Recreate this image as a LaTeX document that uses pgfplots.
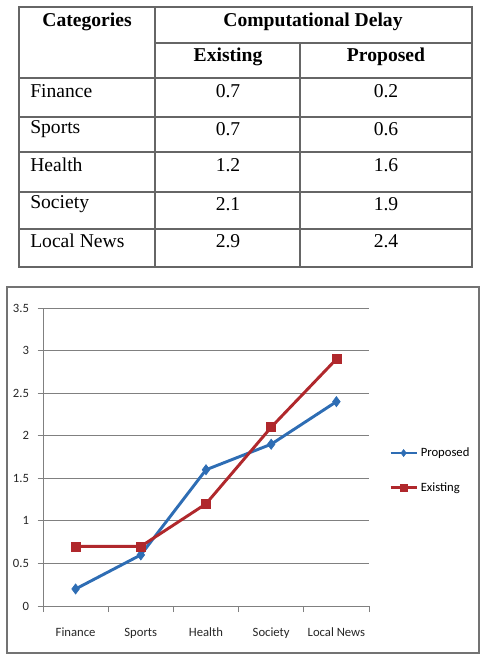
\documentclass[border=0pt]{standalone}
\usepackage{pgfplots}
\pgfplotsset{compat=1.18}
\usepackage{fontspec}
\setmainfont{Liberation Serif}
\newfontfamily\calfont{Carlito}
\definecolor{pblue}{HTML}{2E6DB4}
\definecolor{ered}{HTML}{B0282C}
\definecolor{gridg}{HTML}{808080}
\begin{document}
\begin{tikzpicture}[x=0.75pt,y=0.75pt]
\useasboundingbox (0,0) rectangle (484,658);
% ---- table ----
\begin{scope}[draw=black!60, line width=0.8pt]
\draw (19,651) rectangle (472,391);
\draw (155,651) -- (155,391);
\draw (300,615) -- (300,391);
\draw (155,615) -- (472,615);
\foreach \yy in {580,541,506,466,429} \draw (19,\yy) -- (472,\yy);
\end{scope}
\begin{scope}[font=\fontsize{14.7}{17}\selectfont]
\node[font=\fontsize{14.7}{17}\selectfont\bfseries] at (87,636) {Categories};
\node[font=\fontsize{14.7}{17}\selectfont\bfseries] at (313,636) {Computational Delay};
\node[font=\fontsize{14.7}{17}\selectfont\bfseries] at (228,601) {Existing};
\node[font=\fontsize{14.7}{17}\selectfont\bfseries] at (386,601) {Proposed};
\foreach \name/\ex/\pr/\yy in {Finance/0.7/0.2/567, Sports/0.7/0.6/529, Health/1.2/1.6/493, Society/2.1/1.9/454, Local News/2.9/2.4/417}{
  \node[anchor=west, inner sep=0pt] at (30,\yy) {\name};
  \node at (228,\yy) {\ex};
  \node at (386,\yy) {\pr};
}
\end{scope}
% ---- chart frame ----
\draw[draw=black!55, line width=0.9pt] (7,371) rectangle (479,5);
\begin{axis}[
  at={(32.25pt,39pt)}, anchor=south west,
  scale only axis, width=244.5pt, height=223.5pt,
  xmin=-0.5, xmax=4.5, ymin=0, ymax=3.5,
  axis x line*=bottom, axis y line*=left,
  axis line style={draw=gridg, line width=0.6pt},
  xtick={0,1,2,3,4},
  xticklabels={Finance,Sports,Health,Society,Local News},
  major x tick style={draw=none},
  minor xtick={-0.5,0.5,1.5,2.5,3.5,4.5},
  minor x tick style={draw=gridg, line width=0.6pt},
  ytick={0,0.5,...,3.5},
  yticklabels={0,0.5,1,1.5,2,2.5,3,3.5},
  major y tick style={draw=gridg, line width=0.6pt},
  tick align=outside,
  major tick length=4pt, minor tick length=4.5pt,
  ymajorgrids, grid style={draw=gridg, line width=0.6pt},
  ticklabel style={font=\calfont\fontsize{9.5}{11}\selectfont, text=black!85},
  xticklabel style={yshift=-9pt},
  yticklabel style={xshift=-3pt},
  clip=false,
  legend style={at={(1.061,0.455)}, anchor=west, draw=none, fill=none,
    font=\calfont\fontsize{9.5}{11}\selectfont, row sep=14pt, inner sep=0pt,
    /tikz/every even column/.append style={column sep=0pt}},
  legend cell align=left,
  legend image code/.code={\draw[mark repeat=2,mark phase=2,#1,mark size=2.6pt] plot coordinates {(0pt,0pt)(9.75pt,0pt)(19.5pt,0pt)};},
]
\addplot[color=pblue, line width=2.2pt, mark=diamond*, mark size=3.8pt, mark options={fill=pblue, line width=0.5pt}]
  coordinates {(0,0.2)(1,0.6)(2,1.6)(3,1.9)(4,2.4)};
\addlegendentry{Proposed}
\addplot[color=ered, line width=2.2pt, mark=square*, mark size=3.4pt, mark options={fill=ered, line width=0.5pt}]
  coordinates {(0,0.7)(1,0.7)(2,1.2)(3,2.1)(4,2.9)};
\addlegendentry{Existing}
\end{axis}
\end{tikzpicture}
\end{document}
